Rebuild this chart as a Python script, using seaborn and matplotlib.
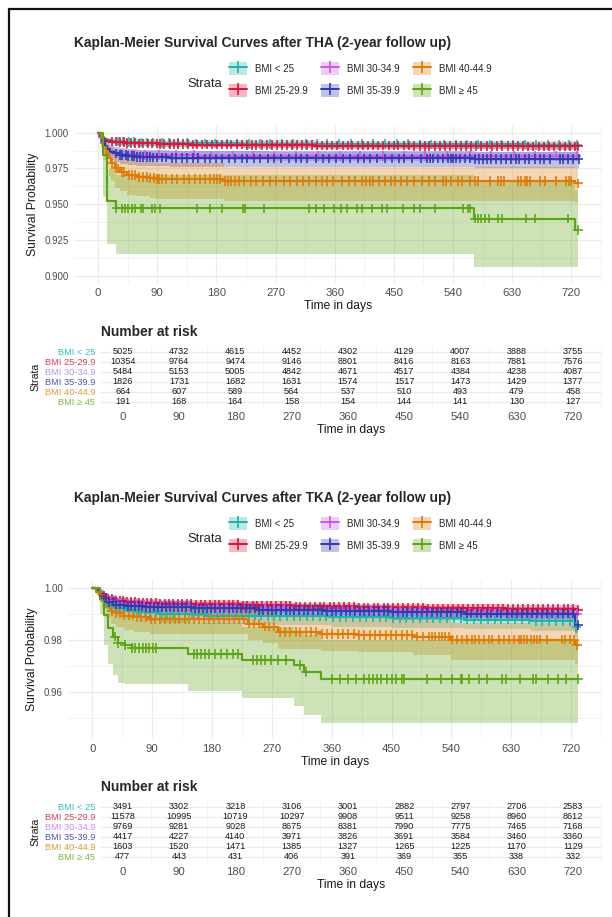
import matplotlib
matplotlib.use("Agg")
import matplotlib.pyplot as plt
from matplotlib.lines import Line2D
from matplotlib.patches import Patch, Rectangle
from matplotlib.legend_handler import HandlerTuple
import numpy as np
import pandas as pd
import seaborn as sns

STRATA = ['BMI < 25', 'BMI 25-29.9', 'BMI 30-34.9', 'BMI 35-39.9', 'BMI 40-44.9', 'BMI \u2265 45']
COLORS = ['#20B2AA', '#DC143C', '#C45BEB', '#2E3BAE', '#E07A06', '#5BA512']
LABEL_COLORS = ['#30C0C0', '#D63A5C', '#C78CF0', '#4A55B5', '#E29A35', '#7DB83E']
TIME_BREAKS = [0, 90, 180, 270, 360, 450, 540, 630, 720]

# ---------------- THA ----------------
THA_T = [
    [0, 2, 4, 7, 10, 14, 20, 28, 40, 60, 90, 140, 220, 330, 480, 650, 730],
    [0, 2, 4, 7, 10, 14, 20, 28, 40, 60, 90, 140, 220, 330, 480, 650, 730],
    [0, 2, 5, 8, 12, 17, 24, 32, 45, 65, 95, 150, 260, 420, 730],
    [0, 3, 6, 10, 14, 19, 25, 33, 45, 60, 80, 110, 160, 573, 731],
    [0, 4, 8, 12, 16, 20, 26, 33, 44, 59, 79, 88, 192, 726, 730],
    [0, 8, 14, 27, 572, 726, 730],
]
THA_S = [
    [1.0, 0.9985, 0.997, 0.996, 0.9953, 0.9947, 0.9942, 0.9938, 0.9934, 0.9931, 0.9928, 0.9925, 0.9922, 0.992, 0.9918, 0.9915, 0.9915],
    [1.0, 0.9982, 0.9968, 0.9957, 0.995, 0.9944, 0.9938, 0.9933, 0.9929, 0.9925, 0.9921, 0.9917, 0.9913, 0.991, 0.9907, 0.9904, 0.9904],
    [1.0, 0.997, 0.993, 0.9905, 0.9885, 0.987, 0.986, 0.9853, 0.9848, 0.9845, 0.9842, 0.984, 0.9838, 0.9836, 0.9836],
    [1.0, 0.998, 0.9945, 0.991, 0.9885, 0.9868, 0.9855, 0.9845, 0.9838, 0.9832, 0.9827, 0.9823, 0.982, 0.9816, 0.9816],
    [1.0, 0.996, 0.99, 0.986, 0.982, 0.979, 0.975, 0.9727, 0.9704, 0.9692, 0.9681, 0.9676, 0.9662, 0.9645, 0.9645],
    [1.0, 0.9845, 0.9525, 0.947, 0.940, 0.932, 0.932],
]
THA_LO = [
    [1.0, 0.997, 0.9955, 0.9942, 0.9933, 0.9926, 0.992, 0.9915, 0.991, 0.9906, 0.9902, 0.9898, 0.9894, 0.9891, 0.9888, 0.9884, 0.9884],
    [1.0, 0.9973, 0.9957, 0.9944, 0.9936, 0.9929, 0.9922, 0.9916, 0.9911, 0.9906, 0.9902, 0.9897, 0.9893, 0.9889, 0.9885, 0.9882, 0.9882],
    [1.0, 0.9955, 0.9905, 0.9876, 0.9854, 0.9838, 0.9827, 0.982, 0.9814, 0.9811, 0.9808, 0.9806, 0.9804, 0.9802, 0.9802],
    [1.0, 0.995, 0.990, 0.9858, 0.983, 0.981, 0.9795, 0.9784, 0.9776, 0.977, 0.9764, 0.976, 0.9757, 0.9752, 0.9752],
    [1.0, 0.989, 0.981, 0.975, 0.970, 0.966, 0.9615, 0.959, 0.9567, 0.9555, 0.9544, 0.9539, 0.9525, 0.9505, 0.9505],
    [1.0, 0.955, 0.9225, 0.9155, 0.9063, 0.9063, 0.9063],
]
THA_HI = [
    [1.0, 0.9995, 0.9984, 0.9976, 0.997, 0.9965, 0.9961, 0.9958, 0.9955, 0.9953, 0.9951, 0.9949, 0.9947, 0.9945, 0.9944, 0.9942, 0.9942],
    [1.0, 0.9989, 0.9978, 0.9968, 0.9962, 0.9957, 0.9952, 0.9948, 0.9945, 0.9942, 0.9938, 0.9935, 0.9932, 0.993, 0.9927, 0.9925, 0.9925],
    [1.0, 0.9982, 0.9952, 0.9931, 0.9913, 0.9899, 0.9889, 0.9882, 0.9877, 0.9874, 0.9871, 0.9869, 0.9867, 0.9865, 0.9865],
    [1.0, 0.9995, 0.9975, 0.9948, 0.9927, 0.9912, 0.9901, 0.9892, 0.9886, 0.9881, 0.9877, 0.9873, 0.9871, 0.9868, 0.9868],
    [1.0, 0.9995, 0.996, 0.9935, 0.9905, 0.988, 0.985, 0.9832, 0.9813, 0.9802, 0.9792, 0.9787, 0.9762, 0.975, 0.975],
    [1.0, 0.996, 0.9745, 0.9705, 0.9655, 0.960, 0.960],
]
THA_CENS = [
    [30, 38, 47, 55, 66, 74, 83, 97, 108, 121, 135, 149, 163, 178, 196, 211, 229, 247, 262, 280, 297, 316, 333,
     349, 367, 385, 402, 418, 437, 455, 472, 489, 507, 526, 544, 561, 578, 596, 613, 631, 649, 666, 684, 701, 716, 729],
    [22, 27, 33, 39, 44, 50, 57, 63, 69, 76, 82, 89, 95, 101, 109, 116, 122, 129, 137, 144, 151, 158, 166, 173, 181,
     188, 196, 203, 211, 219, 226, 234, 241, 249, 257, 264, 272, 280, 287, 295, 303, 310, 318, 326, 333, 341, 349,
     356, 364, 372, 380, 387, 395, 403, 411, 418, 426, 434, 442, 450, 457, 465, 473, 481, 489, 497, 504, 512, 520,
     528, 536, 544, 552, 559, 567, 575, 583, 591, 599, 607, 615, 623, 631, 638, 646, 654, 662, 670, 678, 686, 694,
     702, 710, 718, 725, 730],
    [35, 52, 71, 93, 118, 146, 172, 205, 236, 268, 301, 335, 368, 399, 433, 466, 498, 531, 566, 598, 632, 664, 697, 728],
    [28, 33, 37, 42, 46, 51, 55, 60, 64, 69, 74, 79, 84, 90, 97, 104, 112, 119, 127, 136, 145, 152, 163, 171, 180,
     188, 199, 208, 219, 226, 238, 247, 259, 268, 279, 290, 301, 309, 318, 331, 342, 351, 362, 373, 383, 395, 404,
     413, 424, 436, 447, 458, 466, 477, 491, 500, 505, 510, 517, 525, 532, 537, 540, 545, 550, 558, 565, 573, 580,
     586, 591, 598, 606, 613, 621, 628, 636, 641, 649, 656, 664, 672, 679, 687, 702, 707, 715, 722, 731],
    [22, 27, 31, 36, 40, 47, 52, 57, 63, 68, 74, 79, 85, 89, 93, 98, 104, 112, 120, 131, 139, 147, 155, 163, 170,
     176, 181, 186, 193, 198, 203, 208, 214, 222, 232, 241, 251, 262, 270, 283, 292, 303, 312, 321, 331, 340, 349,
     358, 371, 382, 391, 402, 408, 413, 418, 427, 437, 446, 452, 461, 470, 481, 492, 504, 512, 525, 530, 537, 548,
     553, 565, 573, 578, 596, 608, 613, 618, 639, 644, 649, 652, 657, 672, 680, 697, 712, 717, 720, 730],
    [28, 36, 41, 46, 51, 56, 66, 69, 82, 87, 94, 150, 171, 189, 221, 224, 253, 321, 332, 344, 359, 370, 379, 394,
     402, 417, 432, 440, 464, 481, 490, 512, 555, 563, 565, 573, 578, 583, 588, 595, 608, 615, 651, 665, 715, 730],
]
THA_RISK = [
    [5025, 4732, 4615, 4452, 4302, 4129, 4007, 3888, 3755],
    [10354, 9764, 9474, 9146, 8801, 8416, 8163, 7881, 7576],
    [5484, 5153, 5005, 4842, 4671, 4517, 4384, 4238, 4087],
    [1826, 1731, 1682, 1631, 1574, 1517, 1473, 1429, 1377],
    [664, 607, 589, 564, 537, 510, 493, 479, 458],
    [191, 168, 164, 158, 154, 144, 141, 130, 127],
]

# ---------------- TKA ----------------
TKA_T = [
    [0, 5, 10, 16, 24, 35, 50, 70, 100, 170, 260, 360, 450, 560, 660, 726, 730],
    [0, 5, 10, 16, 24, 35, 50, 70, 100, 150, 220, 300, 400, 500, 620, 730],
    [0, 5, 10, 16, 24, 35, 50, 70, 100, 150, 220, 300, 400, 500, 620, 730],
    [0, 5, 10, 16, 24, 35, 50, 80, 150, 250, 350, 450, 560, 726, 730],
    [0, 6, 10, 15, 21, 28, 36, 48, 62, 87, 234, 257, 280, 344, 400, 483, 539, 726, 730],
    [0, 12, 17, 24, 31, 39, 49, 59, 144, 225, 303, 318, 344, 730],
]
TKA_S = [
    [1.0, 0.999, 0.997, 0.995, 0.9935, 0.9922, 0.9913, 0.9905, 0.9898, 0.9893, 0.989, 0.9886, 0.9882, 0.9877, 0.9872, 0.9848, 0.9848],
    [1.0, 0.9993, 0.998, 0.9967, 0.9956, 0.9949, 0.9945, 0.9942, 0.9939, 0.9936, 0.9932, 0.9928, 0.9924, 0.992, 0.9917, 0.9915],
    [1.0, 0.9992, 0.9978, 0.9962, 0.995, 0.9942, 0.9937, 0.9933, 0.993, 0.9926, 0.9921, 0.9915, 0.991, 0.9905, 0.99, 0.9896],
    [1.0, 0.9992, 0.9975, 0.996, 0.9945, 0.9935, 0.9929, 0.9925, 0.992, 0.9915, 0.991, 0.9905, 0.990, 0.9857, 0.9857],
    [1.0, 0.9985, 0.997, 0.9952, 0.9927, 0.991, 0.9901, 0.9893, 0.9886, 0.9878, 0.9862, 0.985, 0.983, 0.9823, 0.9818, 0.9812, 0.980, 0.978, 0.978],
    [1.0, 0.9958, 0.9895, 0.9844, 0.9812, 0.9786, 0.978, 0.9767, 0.9745, 0.9722, 0.9702, 0.9675, 0.9648, 0.9648],
]
TKA_LO = [
    [1.0, 0.998, 0.9952, 0.9927, 0.9908, 0.9893, 0.9882, 0.9873, 0.9865, 0.9859, 0.9855, 0.985, 0.9846, 0.984, 0.9834, 0.9805, 0.9805],
    [1.0, 0.9985, 0.9966, 0.9952, 0.994, 0.9933, 0.9929, 0.9926, 0.9923, 0.992, 0.9916, 0.9912, 0.9908, 0.9904, 0.9901, 0.9899],
    [1.0, 0.9983, 0.9961, 0.9944, 0.9931, 0.9923, 0.9918, 0.9914, 0.9911, 0.9907, 0.9902, 0.9896, 0.9891, 0.9886, 0.9881, 0.9877],
    [1.0, 0.998, 0.9952, 0.9934, 0.9917, 0.9907, 0.9901, 0.9897, 0.9892, 0.9887, 0.9882, 0.9877, 0.9871, 0.9826, 0.9826],
    [1.0, 0.997, 0.9945, 0.9918, 0.9883, 0.986, 0.9848, 0.9838, 0.983, 0.982, 0.980, 0.9787, 0.9765, 0.9757, 0.9751, 0.974, 0.9722, 0.9705, 0.9705],
    [1.0, 0.99, 0.978, 0.9705, 0.9665, 0.9635, 0.963, 0.963, 0.9603, 0.9575, 0.9545, 0.951, 0.948, 0.948],
]
TKA_HI = [
    [1.0, 0.9997, 0.9985, 0.997, 0.9958, 0.9948, 0.9941, 0.9934, 0.9928, 0.9924, 0.9922, 0.9918, 0.9915, 0.9911, 0.9907, 0.9886, 0.9886],
    [1.0, 0.9998, 0.9991, 0.9981, 0.9971, 0.9964, 0.996, 0.9957, 0.9954, 0.9951, 0.9947, 0.9943, 0.9939, 0.9936, 0.9933, 0.9931],
    [1.0, 0.9997, 0.999, 0.9978, 0.9967, 0.9959, 0.9954, 0.995, 0.9947, 0.9943, 0.9938, 0.9932, 0.9927, 0.9922, 0.9917, 0.9913],
    [1.0, 0.9998, 0.9989, 0.998, 0.9968, 0.996, 0.9954, 0.9949, 0.9944, 0.9939, 0.9934, 0.9929, 0.9924, 0.9885, 0.9885],
    [1.0, 0.9995, 0.9988, 0.998, 0.9965, 0.9953, 0.9947, 0.9941, 0.9936, 0.993, 0.9918, 0.9908, 0.9892, 0.9886, 0.9882, 0.9876, 0.9865, 0.985, 0.985],
    [1.0, 0.9995, 0.996, 0.993, 0.9912, 0.9895, 0.989, 0.988, 0.9865, 0.985, 0.9835, 0.9818, 0.980, 0.980],
]
TKA_CENS = [
    [20, 26, 33, 40, 47, 55, 62, 70, 79, 87, 96, 105, 113, 122, 131, 140, 150, 159, 168, 178, 187, 197, 206, 216,
     225, 235, 245, 254, 264, 274, 283, 293, 303, 313, 323, 332, 342, 352, 362, 372, 382, 392, 402, 412, 422, 432,
     442, 452, 462, 472, 482, 493, 503, 513, 523, 533, 544, 554, 564, 574, 584, 595, 605, 615, 625, 636, 646, 656,
     667, 677, 687, 698, 708, 718, 728],
    [18, 24, 29, 35, 41, 46, 52, 58, 64, 70, 76, 83, 89, 96, 102, 109, 115, 122, 129, 135, 142, 149, 156, 163, 170,
     177, 184, 191, 198, 205, 212, 219, 226, 233, 241, 248, 255, 262, 269, 277, 284, 291, 298, 306, 313, 320, 327,
     335, 342, 349, 357, 364, 371, 379, 386, 393, 401, 408, 415, 423, 430, 438, 445, 452, 460, 467, 475, 482, 490,
     497, 505, 512, 520, 527, 535, 542, 550, 557, 565, 572, 580, 587, 595, 602, 610, 617, 625, 633, 640, 648, 655,
     663, 671, 678, 686, 693, 701, 709, 716, 723, 730],
    [22, 31, 42, 53, 66, 78, 91, 104, 118, 131, 145, 159, 173, 187, 201, 216, 230, 244, 259, 273, 288, 302, 317,
     331, 346, 360, 375, 390, 404, 419, 434, 449, 463, 478, 493, 508, 523, 538, 553, 568, 583, 598, 613, 628, 643,
     658, 673, 688, 703, 718, 729],
    [20, 25, 31, 36, 42, 47, 53, 58, 64, 70, 75, 81, 87, 93, 99, 105, 111, 117, 123, 129, 135, 141, 148, 154, 160,
     166, 173, 179, 185, 192, 198, 205, 211, 218, 224, 231, 237, 244, 251, 257, 264, 271, 277, 284, 291, 298, 304,
     311, 318, 325, 332, 339, 346, 353, 360, 367, 374, 381, 388, 395, 402, 409, 416, 423, 431, 438, 445, 452, 459,
     467, 474, 481, 489, 496, 503, 511, 518, 525, 533, 540, 548, 555, 563, 570, 578, 585, 593, 600, 608, 615, 623,
     631, 638, 646, 654, 661, 669, 677, 684, 692, 700, 708, 716, 723, 731],
    [30, 36, 42, 48, 55, 61, 68, 74, 81, 88, 95, 102, 110, 117, 124, 131, 139, 146, 153, 161, 168, 175, 183, 190,
     198, 205, 213, 220, 228, 236, 243, 251, 259, 266, 274, 282, 290, 298, 306, 313, 321, 329, 337, 345, 353, 361,
     369, 377, 385, 393, 401, 409, 417, 425, 433, 441, 449, 457, 465, 473, 481, 489, 497, 506, 511, 516, 521, 526,
     531, 536, 541, 549, 556, 564, 571, 576, 581, 589, 596, 601, 611, 619, 626, 634, 641, 644, 649, 654, 659, 664,
     669, 674, 684, 706, 711, 719, 724, 729],
    [34, 39, 49, 59, 64, 71, 76, 81, 86, 91, 96, 153, 158, 164, 170, 176, 184, 193, 202, 211, 219, 242, 248, 254,
     260, 269, 280, 292, 312, 321, 361, 373, 385, 396, 408, 416, 422, 428, 434, 443, 451, 457, 466, 469, 504, 524,
     541, 554, 556, 566, 581, 593, 616, 622, 643, 663, 668, 685, 700, 713, 730],
]
TKA_RISK = [
    [3491, 3302, 3218, 3106, 3001, 2882, 2797, 2706, 2583],
    [11578, 10995, 10719, 10297, 9908, 9511, 9258, 8960, 8612],
    [9769, 9281, 9028, 8675, 8381, 7990, 7775, 7465, 7168],
    [4417, 4227, 4140, 3971, 3826, 3691, 3584, 3460, 3360],
    [1603, 1520, 1471, 1385, 1327, 1265, 1225, 1170, 1129],
    [477, 443, 431, 406, 391, 369, 355, 338, 332],
]

W, H = 612, 917
XLIM = (-36.5, 766.5)
GRID = '#EBEBEB'

sns.set_style('white')
plt.rcParams['font.family'] = ['Liberation Sans', 'DejaVu Sans']


def fx(x):
    return x / W


def fy(y):
    return 1 - y / H


def box(left, top, right, bottom):
    return [fx(left), fy(bottom), (right - left) / W, (bottom - top) / H]


def style_axis(ax):
    for s in ax.spines.values():
        s.set_visible(False)
    ax.tick_params(which='major', length=2.3, width=0.7, color='#333333', labelcolor='#4D4D4D', pad=1.5)
    ax.tick_params(which='minor', length=0)
    ax.grid(which='major', color=GRID, linewidth=0.8, zorder=0)
    ax.grid(which='minor', color=GRID, linewidth=0.45, zorder=0)
    ax.set_axisbelow(True)


def draw_km(ax, T, S, LO, HI, CENS, ylim, yticks, yminor, yfmt):
    rows = []
    for name, ts, vs in zip(STRATA, T, S):
        rows += [(name, t, v) for t, v in zip(ts, vs)]
    df = pd.DataFrame(rows, columns=['strata', 'time', 'surv'])

    for ts, lo, hi, c in zip(T, LO, HI, COLORS):
        ax.fill_between(ts, lo, hi, step='post', color=c, alpha=0.3, linewidth=0, zorder=1)

    sns.lineplot(data=df, x='time', y='surv', hue='strata', hue_order=STRATA, palette=COLORS,
                 estimator=None, sort=False, drawstyle='steps-post', linewidth=1.55,
                 legend=False, ax=ax, zorder=2)

    crow = []
    for name, ts, vs, cs in zip(STRATA, T, S, CENS):
        idx = np.searchsorted(ts, cs, side='right') - 1
        crow += [(name, c, vs[i]) for c, i in zip(cs, idx)]
    cdf = pd.DataFrame(crow, columns=['strata', 'time', 'surv'])
    sns.scatterplot(data=cdf, x='time', y='surv', hue='strata', hue_order=STRATA, palette=COLORS,
                    marker='+', s=48, linewidth=1.15, legend=False, ax=ax, zorder=3)

    ax.set_xlim(*XLIM)
    ax.set_ylim(*ylim)
    ax.set_xticks(TIME_BREAKS)
    ax.set_xticks([t + 45 for t in TIME_BREAKS], minor=True)
    ax.set_yticks(yticks)
    ax.set_yticklabels([yfmt.format(v) for v in yticks])
    ax.set_yticks(yminor, minor=True)
    style_axis(ax)
    ax.tick_params(axis='x', labelsize=8.2)
    ax.tick_params(axis='y', labelsize=7)
    ax.set_xlabel('Time in days', fontsize=8.7, color='#1A1A1A', labelpad=1.5)
    ax.set_ylabel('Survival Probability', fontsize=8.7, color='#1A1A1A', labelpad=4)


def draw_risk(ax, risk):
    for i, row in enumerate(risk):
        for t, n in zip(TIME_BREAKS, row):
            ax.text(t, i, str(n), ha='center', va='center', fontsize=6.6, color='#1A1A1A', zorder=3)
    ax.set_xlim(*XLIM)
    ax.set_ylim(len(STRATA) - 0.4, -0.6)
    ax.set_xticks(TIME_BREAKS)
    ax.set_xticks([t + 45 for t in TIME_BREAKS], minor=True)
    ax.set_yticks(range(len(STRATA)))
    ax.set_yticklabels(STRATA)
    style_axis(ax)
    ax.tick_params(axis='x', which='major', length=0, labelsize=8.2, pad=3)
    ax.tick_params(axis='y', labelsize=6.7, pad=1)
    for lab, c in zip(ax.get_yticklabels(), LABEL_COLORS):
        lab.set_color(c)
    ax.set_xlabel('Time in days', fontsize=8.7, color='#1A1A1A', labelpad=1.5)
    ax.set_ylabel('Strata', fontsize=7.6, color='#1A1A1A', labelpad=3)


def draw_header(fig, title, dy):
    fig.text(fx(74), fy(43 + dy), title, fontsize=9.9, fontweight='bold', ha='left', va='center')
    fig.text(fx(222), fy(84 + dy), 'Strata', fontsize=9.4, ha='right', va='center')
    handles = [(Patch(facecolor=c, alpha=0.3, edgecolor='none'),
                Line2D([], [], color=c, linewidth=1.4, marker='+', markersize=8, markeredgewidth=1.2))
               for c in COLORS]
    fig.legend(handles=handles, labels=STRATA, ncol=3, loc='upper left',
               bbox_to_anchor=(fx(229), fy(62 + dy)), bbox_transform=fig.transFigure,
               frameon=False, fontsize=7, handlelength=1.85, handleheight=1.7, handletextpad=0.8,
               columnspacing=1.4, labelspacing=0.9, borderpad=0, borderaxespad=0,
               handler_map={tuple: HandlerTuple(ndivide=1, pad=0)})


fig = plt.figure(figsize=(W / 100, H / 100), dpi=100)

dy = 455
draw_header(fig, 'Kaplan-Meier Survival Curves after THA (2-year follow up)', 0)
ax1 = fig.add_axes(box(74, 125.5, 602, 282.9))
draw_km(ax1, THA_T, THA_S, THA_LO, THA_HI, THA_CENS, (0.895, 1.005),
        [0.900, 0.925, 0.950, 0.975, 1.000], [0.9125, 0.9375, 0.9625, 0.9875], '{:.3f}')
ax2 = fig.add_axes(box(100, 345.7, 602, 407.7))
draw_risk(ax2, THA_RISK)
fig.text(fx(101), fy(332), 'Number at risk', fontsize=9.9, fontweight='bold', ha='left', va='center')

draw_header(fig, 'Kaplan-Meier Survival Curves after TKA (2-year follow up)', dy)
ax3 = fig.add_axes(box(68, 580.4, 602, 739))
draw_km(ax3, TKA_T, TKA_S, TKA_LO, TKA_HI, TKA_CENS, (0.9418, 1.0028),
        [0.96, 0.98, 1.00], [0.95, 0.97, 0.99], '{:.2f}')
ax4 = fig.add_axes(box(100, 345.7 + dy, 602, 407.7 + dy))
draw_risk(ax4, TKA_RISK)
fig.text(fx(101), fy(332 + dy), 'Number at risk', fontsize=9.9, fontweight='bold', ha='left', va='center')

# frame lines of the cropped screenshot (left and top only)
fig.patches.append(Rectangle((fx(8.5), -1), 2, fy(8.5) + 1, transform=fig.transFigure,
                             fill=False, edgecolor='#111111', linewidth=1.6))

fig.savefig('out.png', dpi=100)
